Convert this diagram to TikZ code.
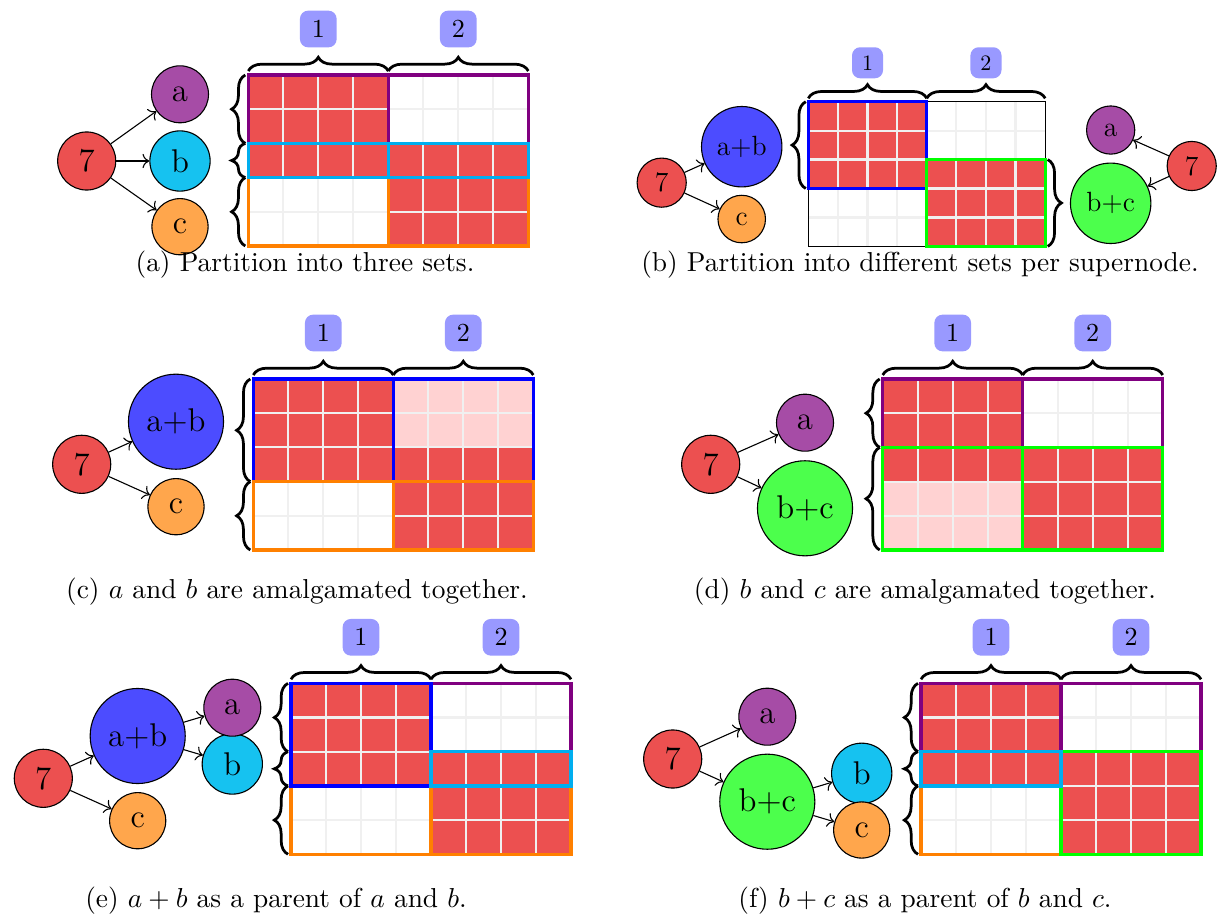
\documentclass[tikz,border=0pt]{standalone}
\usepackage{tikz}
\usetikzlibrary{positioning,arrows.meta,decorations.pathreplacing}

\definecolor{cellred}{RGB}{236,80,80}
\definecolor{cellpink}{RGB}{255,210,210}
\definecolor{gridgray}{RGB}{240,240,240}
\definecolor{bline}{RGB}{0,174,239}
\definecolor{bfill}{RGB}{22,194,240}

% blocks of cells, in cell units (col, row) from the grid corner
\newcommand{\cellblock}[5]{\fill[#1] (#2*35,#3*34.2) rectangle (#4*35,#5*34.2);}
\newcommand{\partbox}[5]{\draw[setline,#1] (#2*35,#3*34.2) rectangle (#4*35,#5*34.2);}
\newcommand{\rowbrace}[2]{\draw[bracket] (-3,#2*34.2) -- (-3,#1*34.2);}
\newcommand{\cellgrid}[1]{%
  \foreach \i in {1,...,7} \draw[gridline] (\i*35,0) -- (\i*35,171);
  \foreach \j in {1,...,4} \draw[gridline] (0,\j*34.2) -- (280,\j*34.2);
  \draw[line width=0.4pt] (0,0) rectangle (280,171);
  \draw[bracket] (0,-4) -- (140,-4);
  \draw[bracket] (140,-4) -- (280,-4);
  \node[blocklabel] (#1-one) at (70,-46) {1};
  \node[blocklabel] (#1-two) at (210,-46) {2};}

\tikzset{
  vert/.style={circle, draw, inner sep=0pt, minimum size=20.8pt, font=\fontsize{12}{14}\selectfont},
  rootv/.style={vert, fill=cellred, minimum size=21.2pt},
  av/.style={vert, fill=violet!70},
  bv/.style={vert, fill=bfill, minimum size=22pt},
  cv/.style={vert, fill=orange!70, minimum size=20.5pt},
  abv/.style={vert, fill=blue!70, minimum size=34.7pt},
  bcv/.style={vert, fill=green!70, minimum size=34.7pt},
  gridline/.style={gridgray, line width=0.8pt},
  setline/.style={line width=1.2pt},
  bracket/.style={decorate, decoration={brace, amplitude=5pt}, line width=1pt},
  blocklabel/.style={fill=blue!40, rounded corners=3pt, minimum size=13.4pt, inner sep=0pt, font=\fontsize{9.5}{11}\selectfont},
}

\begin{document}
\begin{tikzpicture}[>=To, x=0.365pt, y=-0.365pt]
  \useasboundingbox[fill=white] (0,0) rectangle (1225,915);

  % (a)
  \begin{scope}[shift={(248.3,75)}]
    \cellblock{cellred}{0}{0}{4}{2}
    \cellblock{cellred}{0}{2}{8}{3}
    \cellblock{cellred}{4}{3}{8}{5}
    \cellgrid{A}
    \partbox{violet}{0}{0}{4}{2} \partbox{violet}{4}{0}{8}{2}
    \partbox{orange}{0}{3}{4}{5} \partbox{orange}{4}{3}{8}{5}
    \partbox{bline}{0}{2}{4}{3} \partbox{bline}{4}{2}{8}{3}
    \rowbrace{0}{2} \rowbrace{2}{3} \rowbrace{3}{5}
    \node[rootv] (A-7) at (-161.6,86) {7};
    \node[av] (A-a) at (-68.3,19.3) {a};
    \node[bv] (A-b) at (-68.3,86) {b};
    \node[cv] (A-c) at (-68.3,151.7) {c};
    \draw[->] (A-7) -- (A-a);
    \draw[->] (A-7) -- (A-b);
    \draw[->] (A-7) -- (A-c);
  \end{scope}
  \node (A-cap) at (305,265) {(a) Partition into three sets.};

  % (b)
  \begin{scope}[shift={(808.3,101.7)}, scale=0.846, transform shape]
    \cellblock{cellred}{0}{0}{4}{3}
    \cellblock{cellred}{4}{2}{8}{5}
    \cellgrid{B}
    \partbox{blue}{0}{0}{4}{3}
    \partbox{green}{4}{2}{8}{5}
    \rowbrace{0}{3}
    \draw[bracket] (283,2*34.2) -- (283,5*34.2);
    \node[rootv] (B-7) at (-173.3,95.7) {7};
    \node[abv] (B-ab) at (-78.7,53.2) {a+b};
    \node[cv] (B-c) at (-78.7,138.7) {c};
    \node[av] (B-a) at (357.4,33.5) {a};
    \node[rootv] (B-7r) at (453.2,76) {7};
    \node[bcv] (B-bc) at (357.4,120.1) {b+c};
    \draw[->] (B-7) -- (B-ab);
    \draw[->] (B-7) -- (B-c);
    \draw[->] (B-7r) -- (B-a);
    \draw[->] (B-7r) -- (B-bc);
  \end{scope}
  \node (B-cap) at (920,265) {(b) Partition into different sets per supernode.};

  % (c)
  \begin{scope}[shift={(253.3,379)}]
    \cellblock{cellred}{0}{0}{4}{3}
    \cellblock{cellred}{4}{2}{8}{5}
    \cellblock{cellpink}{4}{0}{8}{2}
    \cellgrid{C}
    \partbox{blue}{0}{0}{4}{3} \partbox{blue}{4}{0}{8}{3}
    \partbox{orange}{0}{3}{4}{5} \partbox{orange}{4}{3}{8}{5}
    \rowbrace{0}{3} \rowbrace{3}{5}
    \node[rootv] (C-7) at (-171.6,85.3) {7};
    \node[abv] (C-ab) at (-77.3,42.7) {a+b};
    \node[cv] (C-c) at (-77.3,127.7) {c};
    \draw[->] (C-7) -- (C-ab);
    \draw[->] (C-7) -- (C-c);
  \end{scope}
  \node (C-cap) at (297,592) {(c) $a$ and $b$ are amalgamated together.};

  % (d)
  \begin{scope}[shift={(882.7,379)}]
    \cellblock{cellred}{0}{0}{4}{3}
    \cellblock{cellred}{4}{2}{8}{5}
    \cellblock{cellpink}{0}{3}{4}{5}
    \cellgrid{D}
    \partbox{violet}{0}{0}{4}{2} \partbox{violet}{4}{0}{8}{2}
    \partbox{green}{0}{2}{4}{5} \partbox{green}{4}{2}{8}{5}
    \rowbrace{0}{2} \rowbrace{2}{5}
    \node[rootv] (D-7) at (-172,85.3) {7};
    \node[av] (D-a) at (-77.7,43.7) {a};
    \node[bcv] (D-bc) at (-77.7,129.3) {b+c};
    \draw[->] (D-7) -- (D-a);
    \draw[->] (D-7) -- (D-bc);
  \end{scope}
  \node (D-cap) at (925,592) {(d) $b$ and $c$ are amalgamated together.};

  % (e)
  \begin{scope}[shift={(291,683.3)}]
    \cellblock{cellred}{0}{0}{4}{3}
    \cellblock{cellred}{4}{2}{8}{5}
    \cellgrid{E}
    \partbox{orange}{0}{3}{4}{5} \partbox{orange}{4}{3}{8}{5}
    \partbox{violet}{4}{0}{8}{2}
    \partbox{blue}{0}{0}{4}{3}
    \partbox{bline}{4}{2}{8}{3}
    \rowbrace{0}{2} \rowbrace{2}{3} \rowbrace{3}{5}
    \node[rootv] (E-7) at (-247.7,95) {7};
    \node[abv] (E-ab) at (-153.3,52.7) {a+b};
    \node[bv] (E-b) at (-58.7,80.7) {b};
    \node[av] (E-a) at (-58.7,24.4) {a};
    \node[cv] (E-c) at (-153.3,137.4) {c};
    \draw[->] (E-7) -- (E-ab);
    \draw[->] (E-7) -- (E-c);
    \draw[->] (E-ab) -- (E-a);
    \draw[->] (E-ab) -- (E-b);
  \end{scope}
  \node (E-cap) at (276,901) {(e) $a+b$ as a parent of $a$ and $b$.};

  % (f)
  \begin{scope}[shift={(921,683.3)}]
    \cellblock{cellred}{0}{0}{4}{3}
    \cellblock{cellred}{4}{2}{8}{5}
    \cellgrid{F}
    \partbox{violet}{0}{0}{4}{2} \partbox{violet}{4}{0}{8}{2}
    \partbox{orange}{0}{3}{4}{5}
    \partbox{green}{4}{2}{8}{5}
    \partbox{bline}{0}{2}{4}{3}
    \rowbrace{0}{2} \rowbrace{2}{3} \rowbrace{3}{5}
    \node[rootv] (F-7) at (-248.3,75.7) {7};
    \node[av] (F-a) at (-153.7,33.4) {a};
    \node[bcv] (F-bc) at (-153.7,118.4) {b+c};
    \node[bv] (F-b) at (-59.3,90) {b};
    \node[cv] (F-c) at (-59.3,146.7) {c};
    \draw[->] (F-7) -- (F-a);
    \draw[->] (F-7) -- (F-bc);
    \draw[->] (F-bc) -- (F-b);
    \draw[->] (F-bc) -- (F-c);
  \end{scope}
  \node (F-cap) at (925,901) {(f) $b+c$ as a parent of $b$ and $c$.};
\end{tikzpicture}
\end{document}
